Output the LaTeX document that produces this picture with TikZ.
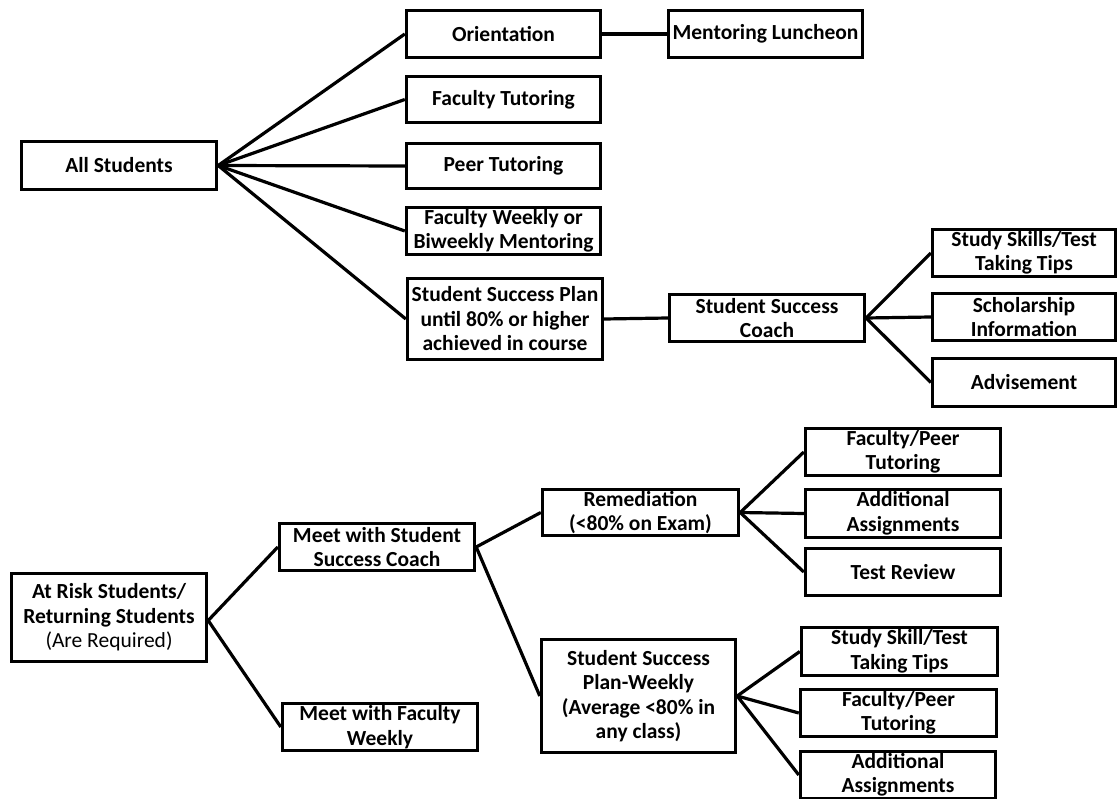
\documentclass[tikz,border=0pt]{standalone}
\usepackage{fontspec}
\setmainfont{Carlito}
\begin{document}
\begin{tikzpicture}[x=1pt,y=-1pt,
  box/.style={draw=black, line width=3.4pt, rectangle, inner sep=0pt, align=center,
    font=\fontsize{21.5}{24.5}\selectfont\bfseries},
  link/.style={draw=black, line width=3.2pt}]
\useasboundingbox (0,0) rectangle (1119,799);
% top tree
\node[box, minimum width=195, minimum height=48] (all) at (119,165.5) {All Students};
\node[box, minimum width=194, minimum height=47] (ori) at (503.5,34) {Orientation};
\node[box, minimum width=194, minimum height=47] (ml) at (765.5,34) {Mentoring Luncheon};
\node[box, minimum width=194, minimum height=46] (ft) at (503.5,99.5) {Faculty Tutoring};
\node[box, minimum width=194, minimum height=45] (pt) at (503.5,166) {Peer Tutoring};
\node[box, minimum width=194, minimum height=47] (fw) at (503.5,231) {Faculty Weekly or\\Biweekly Mentoring};
\node[box, minimum width=195, minimum height=81] (ssp) at (505,319) {Student Success Plan\\until 80\% or higher\\achieved in course};
\node[box, minimum width=195, minimum height=47] (ssc) at (767,318) {Student Success\\Coach};
\node[box, minimum width=183, minimum height=47] (sst) at (1024,253) {Study Skills/Test\\Taking Tips};
\node[box, minimum width=183, minimum height=47] (sch) at (1024,317) {Scholarship\\Information};
\node[box, minimum width=183, minimum height=48] (adv) at (1024,382.5) {Advisement};
% bottom tree
\node[box, minimum width=195, minimum height=88] (risk) at (109,617.5) {At Risk Students/\\Returning Students\\{\mdseries (Are Required)}};
\node[box, minimum width=195, minimum height=47] (mssc) at (377,547) {Meet with Student\\Success Coach};
\node[box, minimum width=195, minimum height=47] (mfw) at (380,727) {Meet with Faculty\\Weekly};
\node[box, minimum width=196, minimum height=46] (rem) at (640.5,512.5) {Remediation\\(<80\% on Exam)};
\node[box, minimum width=194, minimum height=113] (sspw) at (638.5,696) {Student Success\\Plan-Weekly\\(Average <80\% in\\any class)};
\node[box, minimum width=195, minimum height=47] (fpt1) at (903,452) {Faculty/Peer\\Tutoring};
\node[box, minimum width=195, minimum height=48] (aa1) at (903,513.5) {Additional\\Assignments};
\node[box, minimum width=195, minimum height=47] (tr) at (903,572) {Test Review};
\node[box, minimum width=196, minimum height=48] (ss2) at (899.5,651.5) {Study Skill/Test\\Taking Tips};
\node[box, minimum width=196, minimum height=47] (fpt2) at (898.5,713) {Faculty/Peer\\Tutoring};
\node[box, minimum width=195, minimum height=47] (aa2) at (898,775) {Additional\\Assignments};
% connectors
\foreach \t in {ori,ft,pt,fw,ssp} \draw[link] (all.east) -- (\t.west);
\draw[link] (ori.east) -- (ml.west);
\draw[link] (ssp.east) -- (ssc.west);
\foreach \t in {sst,sch,adv} \draw[link] (ssc.east) -- (\t.west);
\draw[link] ([yshift=-3pt]risk.east) -- (mssc.west);
\draw[link] ([yshift=-3pt]risk.east) -- (mfw.west);
\draw[link] (mssc.east) -- (rem.west);
\draw[link] (mssc.east) -- (sspw.west);
\foreach \t in {fpt1,aa1,tr} \draw[link] (rem.east) -- (\t.west);
\foreach \t in {ss2,fpt2,aa2} \draw[link] (sspw.east) -- (\t.west);
\end{tikzpicture}
\end{document}
